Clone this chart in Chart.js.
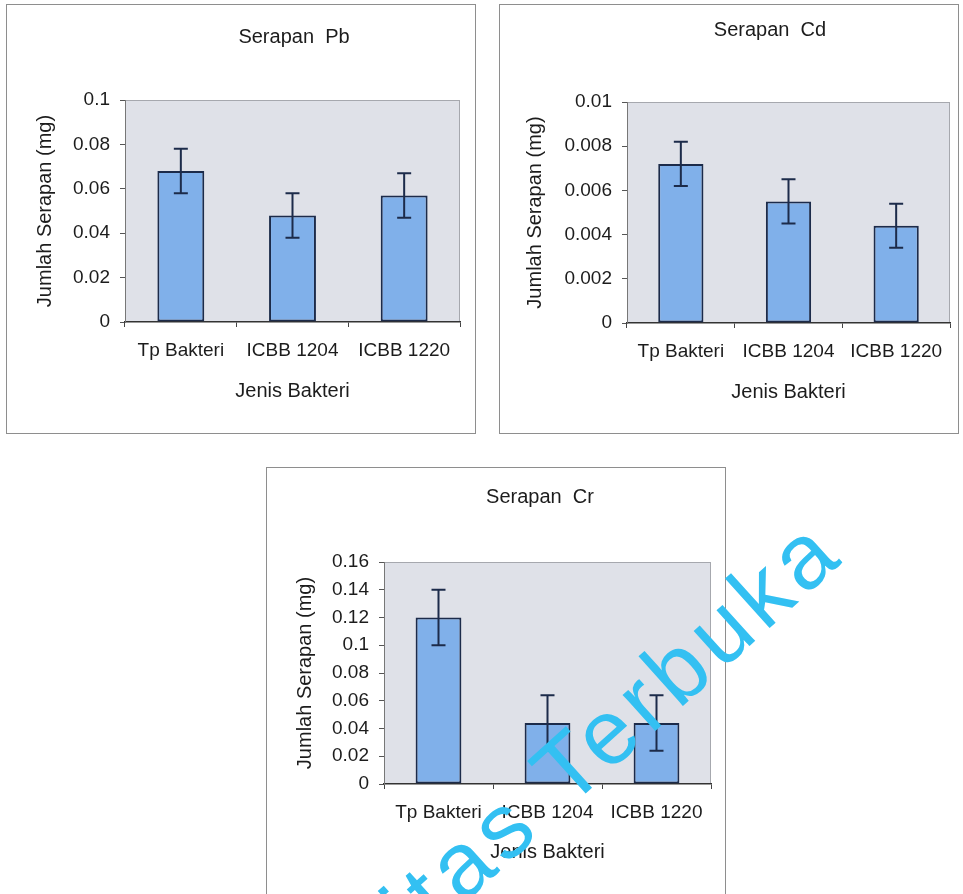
<!DOCTYPE html>
<html>
<head>
<meta charset="utf-8">
<script src="https://cdn.jsdelivr.net/npm/chart.js@4.4.1/dist/chart.umd.min.js"></script>
<style>
    body { margin: 0; background: #fff; }
    #page { position: relative; width: 963px; height: 894px; overflow: hidden; background: #fff; }
    #page canvas { position: absolute; outline: 1px solid #8e8e8e; }
    #cap {
        position: absolute; right: 137px; top: 488px; white-space: nowrap;
        font: 92px/1 "Liberation Sans", Arial, sans-serif; letter-spacing: 7px;
        color: #33c0f2; transform-origin: 100% 50%; transform: rotate(-42deg);
    }
</style>
</head>
<body>
<div id="page">
    <canvas id="chartPb" width="468" height="428" style="left:7px;top:5px"></canvas>
    <canvas id="chartCd" width="458" height="428" style="left:500px;top:5px"></canvas>
    <canvas id="chartCr" width="458" height="426" style="left:267px;top:468px"></canvas>
    <div id="cap">Universitas Terbuka</div>
</div>
<script>
// Data
var jenisBakteri = ['Tp Bakteri', 'ICBB 1204', 'ICBB 1220'];

var serapanPb = [0.068, 0.048, 0.057];
var galatPb = [0.01, 0.01, 0.01];
var tickPb = [0, 0.02, 0.04, 0.06, 0.08, 0.1];
var labelPb = ['0', '0.02', '0.04', '0.06', '0.08', '0.1'];

var serapanCd = [0.0072, 0.0055, 0.0044];
var galatCd = [0.001, 0.001, 0.001];
var tickCd = [0, 0.002, 0.004, 0.006, 0.008, 0.01];
var labelCd = ['0', '0.002', '0.004', '0.006', '0.008', '0.01'];

var serapanCr = [0.12, 0.044, 0.044];
var galatCr = [0.02, 0.02, 0.02];
var tickCr = [0, 0.02, 0.04, 0.06, 0.08, 0.1, 0.12, 0.14, 0.16];
var labelCr = ['0', '0.02', '0.04', '0.06', '0.08', '0.1', '0.12', '0.14', '0.16'];

var huruf = '"Liberation Sans", Arial, sans-serif';
var tinta = '#1c1c1c';
var garis = '#1c2b4a';

// Latar abu-abu area plot
const latarPlot = {
    id: 'latarPlot',
    beforeDraw(chart) {
        const a = chart.chartArea, ctx = chart.ctx;
        ctx.save();
        ctx.fillStyle = '#dfe1e8';
        ctx.fillRect(a.left, a.top, a.right - a.left, a.bottom - a.top);
        ctx.strokeStyle = '#a6a8ae';
        ctx.lineWidth = 1;
        ctx.strokeRect(a.left + 0.5, a.top + 0.5, a.right - a.left - 1, a.bottom - a.top - 1);
        ctx.restore();
    }
};

// Error bar (nilai +/- galat) lewat skala y
const errorBar = {
    id: 'errorBar',
    afterDatasetsDraw(chart, args, opts) {
        const ctx = chart.ctx, y = chart.scales.y;
        const meta = chart.getDatasetMeta(0);
        const nilai = chart.data.datasets[0].data;
        ctx.save();
        ctx.strokeStyle = garis;
        ctx.lineWidth = 2;
        meta.data.forEach((bar, i) => {
            const atas = y.getPixelForValue(nilai[i] + opts.galat[i]);
            const bawah = y.getPixelForValue(nilai[i] - opts.galat[i]);
            ctx.beginPath();
            ctx.moveTo(bar.x, atas); ctx.lineTo(bar.x, bawah);
            ctx.moveTo(bar.x - 7, atas); ctx.lineTo(bar.x + 7, atas);
            ctx.moveTo(bar.x - 7, bawah); ctx.lineTo(bar.x + 7, bawah);
            ctx.stroke();
        });
        ctx.restore();
    }
};

// Judul grafik
const judul = {
    id: 'judul',
    afterDraw(chart, args, opts) {
        const ctx = chart.ctx;
        ctx.save();
        ctx.font = '20px ' + huruf;
        ctx.fillStyle = tinta;
        ctx.textAlign = 'center';
        ctx.textBaseline = 'middle';
        ctx.fillText(opts.text, opts.x, opts.y);
        ctx.restore();
    }
};

function buatGrafik(id, nilai, galat, ticks, labels, maks, s) {
    const ctx = document.getElementById(id).getContext('2d');
    return new Chart(ctx, {
        type: 'bar',
        data: {
            labels: jenisBakteri,
            datasets: [{
                data: nilai,
                backgroundColor: '#80b0ea',
                borderColor: garis,
                borderWidth: 2,
                borderSkipped: false,
                categoryPercentage: 1,
                barPercentage: 0.42
            }]
        },
        options: {
            responsive: false,
            animation: false,
            devicePixelRatio: 1,
            layout: { padding: { left: 0, right: s.kanan, top: s.atas, bottom: 0 } },
            scales: {
                x: {
                    afterFit: function (scale) { scale.height = s.tinggiX; },
                    grid: { offset: true, drawOnChartArea: false, tickLength: 5, color: '#444', lineWidth: 1 },
                    border: { color: '#333', width: 1.5 },
                    ticks: { color: tinta, font: { family: huruf, size: 19 }, padding: 12, maxRotation: 0 },
                    title: {
                        display: true, text: 'Jenis Bakteri', color: tinta,
                        font: { family: huruf, size: 20 }, padding: { top: 0, bottom: s.bawahJudulX }
                    }
                },
                y: {
                    min: 0,
                    max: maks,
                    afterFit: function (scale) { scale.width = s.lebarY; },
                    afterBuildTicks: function (scale) { scale.ticks = ticks.map(v => ({ value: v })); },
                    grid: { drawOnChartArea: false, tickLength: 5, color: '#555' },
                    border: { color: '#777', width: 1 },
                    ticks: {
                        color: tinta, font: { family: huruf, size: 19 }, padding: 10,
                        callback: function (v, i) { return labels[i]; }
                    },
                    title: {
                        display: true, text: 'Jumlah Serapan (mg)', color: tinta,
                        font: { family: huruf, size: 20 }, padding: { top: s.kiriJudulY, bottom: 0 }
                    }
                }
            },
            plugins: {
                legend: { display: false },
                tooltip: { enabled: false },
                errorBar: { galat: galat },
                judul: { text: s.judul, x: s.judulX, y: s.judulY }
            }
        },
        plugins: [latarPlot, errorBar, judul]
    });
}

buatGrafik('chartPb', serapanPb, galatPb, tickPb, labelPb, 0.1,
    { judul: 'Serapan  Pb', judulX: 287, judulY: 32, kanan: 15, atas: 95, tinggiX: 111, bawahJudulX: 30, lebarY: 118, kiriJudulY: 26 });
buatGrafik('chartCd', serapanCd, galatCd, tickCd, labelCd, 0.01,
    { judul: 'Serapan  Cd', judulX: 270, judulY: 25, kanan: 8, atas: 97, tinggiX: 110, bawahJudulX: 29, lebarY: 127, kiriJudulY: 23 });
buatGrafik('chartCr', serapanCr, galatCr, tickCr, labelCr, 0.16,
    { judul: 'Serapan  Cr', judulX: 273, judulY: 29, kanan: 14, atas: 94, tinggiX: 110, bawahJudulX: 30, lebarY: 117, kiriJudulY: 26 });
</script>
</body>
</html>
